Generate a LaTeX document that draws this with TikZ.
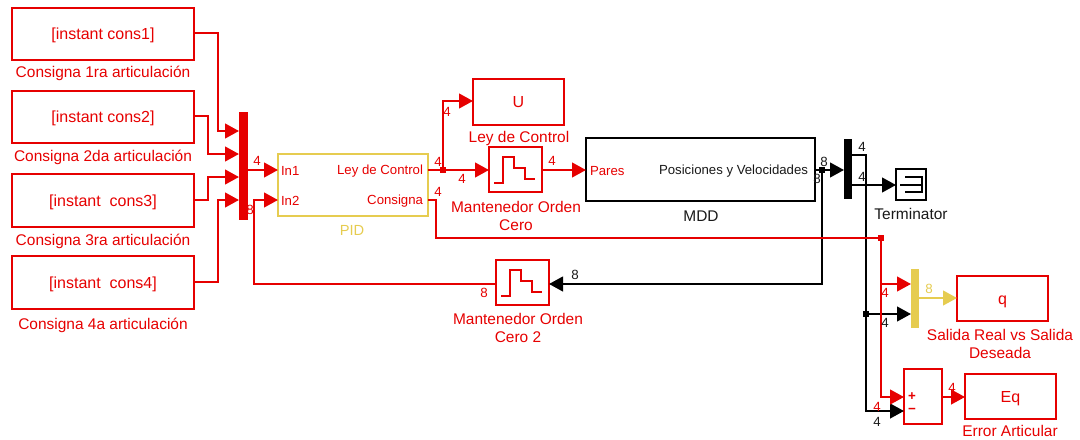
\documentclass[tikz,border=0pt]{standalone}
\usepackage{fontspec}
\setmainfont{Liberation Sans}
\usetikzlibrary{arrows.meta,calc}
\definecolor{simred}{RGB}{230,0,0}
\definecolor{simyel}{RGB}{230,204,80}
\definecolor{simink}{RGB}{25,25,25}
\newcommand{\blk}[7]{\node[#2,text height=0pt,text depth=0pt,minimum width={(#5-#3)*0.75pt},minimum height={(#6-#4)*0.75pt}] (#1) at ({(#3+#5)/2},{(#4+#6)/2}) {\raisebox{-4.3pt}{#7}};}
\newcommand{\stepglyph}[1]{\draw[glyph,shift={(#1.north west)}] (5,36)--(14,36)--(14,10)--(25,10)--(25,21)--(36,21)--(36,32)--(46,32);}
\tikzset{
  x=0.75pt,y=-0.75pt,
  every node/.style={inner sep=0pt,outer sep=0pt},
  redbox/.style={draw=simred,line width=1.7pt,text=simred,font=\fontsize{12}{14}\selectfont,rectangle},
  yelbox/.style={draw=simyel,line width=1.7pt,rectangle},
  inkbox/.style={draw=black,line width=1.7pt,rectangle},
  redmux/.style={fill=simred,rectangle},
  inkmux/.style={fill=black,rectangle},
  yelmux/.style={fill=simyel,rectangle},
  redwire/.style={draw=simred,line width=1.7pt},
  inkwire/.style={draw=black,line width=1.7pt},
  yelwire/.style={draw=simyel,line width=1.7pt},
  tip/.style={-{Triangle[length=10.5pt,width=11pt]}},
  glyph/.style={draw=simred,line width=1.7pt},
  lab/.style={font=\fontsize{11.6}{13}\selectfont,text=simred,align=center},
  inklab/.style={font=\fontsize{11.6}{13}\selectfont,text=simink,align=center},
  port/.style={font=\fontsize{9.9}{11}\selectfont,text=simred},
  inkport/.style={font=\fontsize{9.9}{11}\selectfont,text=simink},
  wnum/.style={font=\fontsize{10}{11}\selectfont,text=simred},
  inknum/.style={font=\fontsize{10}{11}\selectfont,text=simink},
  yelnum/.style={font=\fontsize{10}{11}\selectfont,text=simyel},
  jun/.style={rectangle,minimum size=4.2pt},
}
\begin{document}
\begin{tikzpicture}
\useasboundingbox (0,0) rectangle (1080,439);
% source blocks
\blk{f1}{redbox}{12}{8}{194}{60}{[instant cons1]}
\blk{f2}{redbox}{12}{91}{194}{143}{[instant cons2]}
\blk{f3}{redbox}{12}{174}{194}{227}{[instant\ \ cons3]}
\blk{f4}{redbox}{12}{256}{194}{309}{[instant\ \ cons4]}
\node[lab] (lf1) at (103,73) {Consigna 1ra articulación};
\node[lab] (lf2) at (103,157) {Consigna 2da articulación};
\node[lab] (lf3) at (103,241) {Consigna 3ra articulación};
\node[lab] (lf4) at (103,325) {Consigna 4a articulación};
% mux
\blk{mux}{redmux}{239}{112}{248}{220}{}
\coordinate (mi1) at (mux.west |- 0,131);
\coordinate (mi2) at (mux.west |- 0,154);
\coordinate (mi3) at (mux.west |- 0,177);
\coordinate (mi4) at (mux.west |- 0,200);
% PID
\blk{pid}{yelbox}{278}{154}{428}{216}{}
\coordinate (pi1) at (pid.west |- 0,170);
\coordinate (pi2) at (pid.west |- 0,200);
\coordinate (po1) at (pid.east |- 0,170);
\coordinate (po2) at (pid.east |- 0,200);
\node[port,anchor=west] (tin1) at (281,171) {In1};
\node[port,anchor=west] (tin2) at (281,201) {In2};
\node[port,anchor=east] (tlc) at (423,171) {Ley de Control};
\node[port,anchor=east] (tcs) at (423,201) {Consigna};
\node[font=\fontsize{11}{12}\selectfont,text=simyel] (lpid) at (352,230) {PID};
% U
\blk{u}{redbox}{473}{79}{564}{125}{U}
\node[lab] (lu) at (519,138) {Ley de Control};
% ZOH
\blk{zoh}{redbox}{489}{147}{542}{192}{}
\stepglyph{zoh}
\node[lab] (lz) at (516,216) {Mantenedor Orden\\Cero};
% MDD
\blk{mdd}{inkbox}{586}{138}{815}{201}{}
\coordinate (mddi) at (mdd.west |- 0,170);
\coordinate (mddo) at (mdd.east |- 0,170);
\node[port,anchor=west] (tp) at (590,171) {Pares};
\node[inkport,anchor=east] (tpv) at (808,171) {Posiciones y Velocidades};
\node[inklab] (lmdd) at (701,216) {MDD};
% demux
\blk{dem}{inkmux}{844}{139}{852}{199}{}
\coordinate (di) at (dem.west |- 0,170);
\coordinate (do1) at (dem.east |- 0,155);
\coordinate (do2) at (dem.east |- 0,185);
% terminator
\blk{term}{inkbox}{896}{169}{926}{200}{}
\draw[line width=1.3pt,draw=black,shift={(term.north west)}] (9,8)--(26,8)--(26,23)--(9,23) (4,16)--(26,16);
\node[inklab] (lt) at (911,214) {Terminator};
% ZOH 2
\blk{zohb}{redbox}{496}{260}{549}{305}{}
\stepglyph{zohb}
\node[lab] (lzb) at (518,328) {Mantenedor Orden\\Cero 2};
% yellow mux
\blk{ymux}{yelmux}{911}{269}{919}{328}{}
\coordinate (yi1) at (ymux.west |- 0,284);
\coordinate (yi2) at (ymux.west |- 0,314);
\coordinate (yo) at (ymux.east |- 0,298);
% q
\blk{q}{redbox}{957}{276}{1048}{321}{q}
\node[lab] (lq) at (1000,344) {Salida Real vs Salida\\Deseada};
% sum
\blk{sum}{redbox}{904}{369}{942}{424}{}
\coordinate (si1) at (sum.west |- 0,397);
\coordinate (si2) at (sum.west |- 0,411);
\coordinate (so) at (sum.east |- 0,397);
\node[font=\bfseries\fontsize{10}{10}\selectfont,text=simred] (splus) at (912,397) {+};
\node[font=\bfseries\fontsize{10}{10}\selectfont,text=simred] (sminus) at (912,411) {−};
% Eq
\blk{eq}{redbox}{965}{374}{1056}{419}{Eq}
\node[lab] (leq) at (1010,431) {Error Articular};
% junctions
\node[jun,fill=simred] (j1) at (443,170) {};
\node[jun,fill=simred] (j2) at (881,238) {};
\node[jun,fill=black] (j3) at (866,314) {};
\node[jun,fill=black] (j4) at (822,170) {};
% black wires
\draw[inkwire,tip] (mddo) -- (di);
\draw[inkwire,tip] (j4.center) -- (822,284) -- (zohb.east |- 0,284);
\draw[inkwire,tip] (do2) -- (term.west |- do2);
\draw[inkwire,tip] (do1) -- (866,155) -- (866,411) -- (si2);
\draw[inkwire,tip] (j3.center) -- (yi2);
% red wires
\draw[redwire,tip] (f1.east |- 0,33) -- (218,33) -- (218,131) -- (mi1);
\draw[redwire,tip] (f2.east |- 0,116) -- (208,116) -- (208,154) -- (mi2);
\draw[redwire,tip] (f3.east |- 0,200) -- (208,200) -- (208,177) -- (mi3);
\draw[redwire,tip] (f4.east |- 0,282) -- (218,282) -- (218,200) -- (mi4);
\draw[redwire,tip] (mux.east |- pi1) -- (pi1);
\draw[redwire,tip] (zohb.west |- 0,284) -- (254,284) -- (254,200) -- (pi2);
\draw[redwire,tip] (po1) -- (zoh.west |- po1);
\draw[redwire,tip] (j1.center) -- (443,101) -- (u.west |- 0,101);
\draw[redwire,tip] (zoh.east |- 0,170) -- (mddi);
\draw[redwire] (po2) -- (436,200) -- (436,238) -- (j2.center);
\draw[redwire,tip] (j2.center) -- (881,397) -- (si1);
\draw[redwire,tip] (881,284) -- (yi1);
\draw[redwire,tip] (so) -- (eq.west |- so);
\draw[yelwire,tip] (yo) -- (q.west |- yo);
% signal numbers
\node[wnum] (n1) at (257,161) {4};
\node[wnum] (n2) at (250,210) {8};
\node[wnum] (n3) at (447,112) {4};
\node[wnum] (n4) at (438,162) {4};
\node[wnum] (n5) at (462,179) {4};
\node[wnum] (n6) at (438,192) {4};
\node[wnum] (n7) at (552,161) {4};
\node[inknum] (n8) at (824,162) {8};
\node[inknum] (n9) at (817,179) {8};
\node[inknum] (n10) at (862,147) {4};
\node[inknum] (n11) at (862,177) {4};
\node[inknum] (n12) at (575,275) {8};
\node[wnum] (n13) at (484,293) {8};
\node[wnum] (n14) at (885,293) {4};
\node[inknum] (n15) at (885,323) {4};
\node[yelnum] (n16) at (929,289) {8};
\node[wnum] (n17) at (952,388) {4};
\node[wnum] (n18) at (877,407) {4};
\node[inknum] (n19) at (877,422) {4};
\end{tikzpicture}
\end{document}
